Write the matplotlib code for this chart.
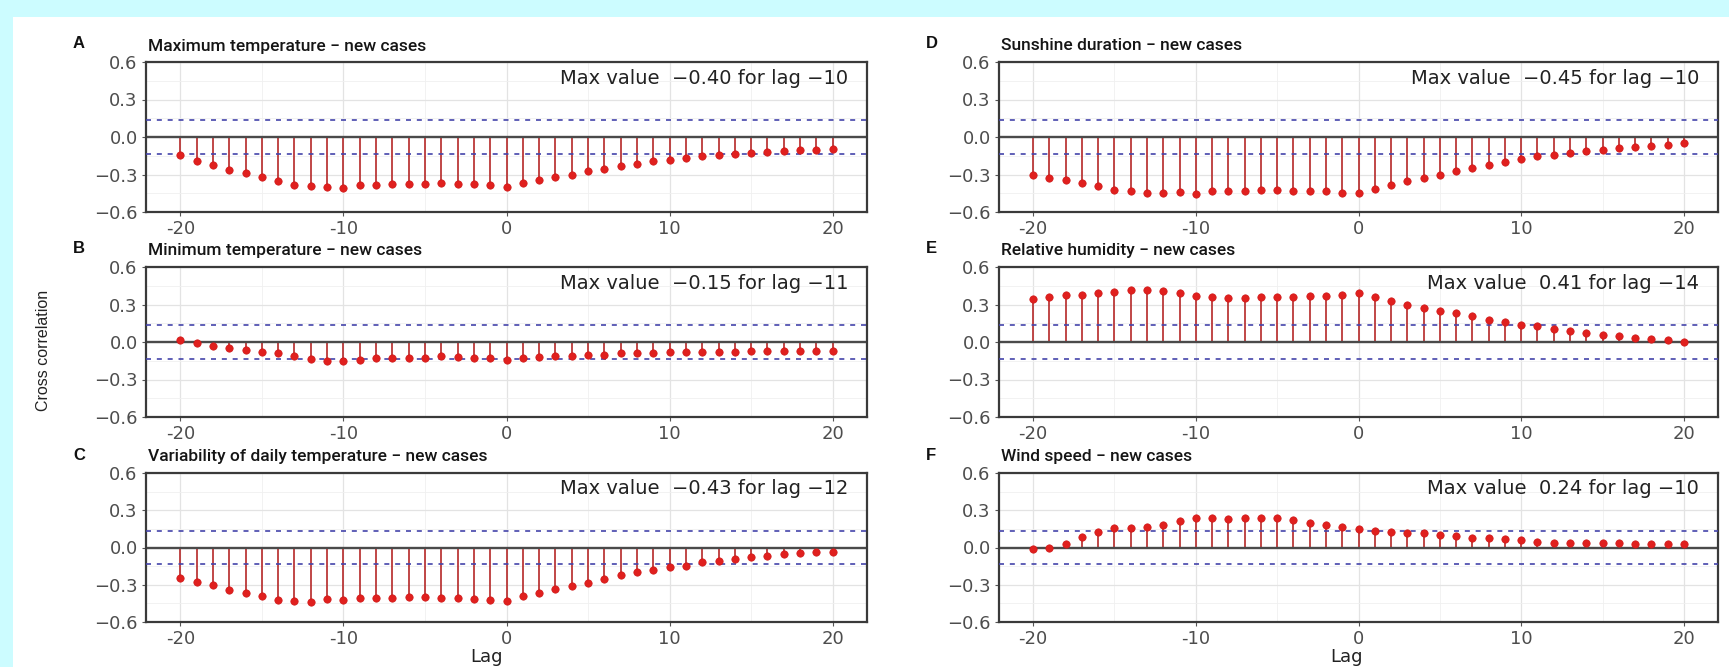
import matplotlib
matplotlib.use('Agg')
import matplotlib.pyplot as plt
from matplotlib.patches import Rectangle
from matplotlib.ticker import MultipleLocator

plt.rcParams['font.family'] = ['Liberation Sans', 'DejaVu Sans']
WIDE = ['DejaVu Sans']
TITLE = ['Roboto', 'Liberation Sans', 'DejaVu Sans']

lags = list(range(-20, 21))

max_temp = [-0.147, -0.19, -0.225, -0.26, -0.29, -0.32, -0.35, -0.38, -0.39, -0.40, -0.405,
            -0.385, -0.38, -0.375, -0.375, -0.375, -0.37, -0.375, -0.375, -0.38, -0.40,
            -0.37, -0.345, -0.32, -0.30, -0.275, -0.255, -0.235, -0.215, -0.195, -0.18,
            -0.165, -0.155, -0.145, -0.135, -0.13, -0.12, -0.11, -0.105, -0.10, -0.095]

min_temp = [0.02, -0.01, -0.035, -0.045, -0.065, -0.08, -0.09, -0.11, -0.135, -0.155, -0.15,
            -0.14, -0.13, -0.125, -0.13, -0.125, -0.115, -0.12, -0.125, -0.13, -0.14,
            -0.13, -0.12, -0.11, -0.11, -0.105, -0.10, -0.09, -0.09, -0.085, -0.08,
            -0.078, -0.077, -0.076, -0.076, -0.075, -0.075, -0.075, -0.075, -0.075, -0.075]

var_temp = [-0.245, -0.275, -0.30, -0.34, -0.365, -0.39, -0.42, -0.43, -0.435, -0.415, -0.42,
            -0.405, -0.405, -0.41, -0.40, -0.40, -0.41, -0.41, -0.415, -0.42, -0.43,
            -0.39, -0.365, -0.335, -0.31, -0.285, -0.25, -0.225, -0.20, -0.18, -0.16,
            -0.145, -0.12, -0.11, -0.095, -0.08, -0.07, -0.055, -0.045, -0.04, -0.035]

sunshine = [-0.30, -0.325, -0.345, -0.37, -0.395, -0.42, -0.43, -0.45, -0.45, -0.44, -0.455,
            -0.43, -0.43, -0.43, -0.42, -0.425, -0.43, -0.43, -0.43, -0.445, -0.45,
            -0.415, -0.385, -0.355, -0.33, -0.30, -0.275, -0.25, -0.22, -0.20, -0.175,
            -0.155, -0.14, -0.125, -0.115, -0.105, -0.09, -0.08, -0.07, -0.06, -0.05]

humidity = [0.345, 0.36, 0.375, 0.38, 0.39, 0.40, 0.415, 0.415, 0.405, 0.39, 0.37,
            0.36, 0.355, 0.355, 0.36, 0.36, 0.36, 0.365, 0.37, 0.375, 0.39,
            0.36, 0.325, 0.295, 0.27, 0.25, 0.23, 0.205, 0.18, 0.16, 0.14,
            0.125, 0.105, 0.09, 0.075, 0.06, 0.047, 0.036, 0.025, 0.014, 0.0]

wind = [-0.01, 0.0, 0.03, 0.085, 0.125, 0.155, 0.155, 0.165, 0.18, 0.21, 0.24,
        0.24, 0.23, 0.235, 0.235, 0.24, 0.22, 0.195, 0.18, 0.165, 0.145,
        0.135, 0.125, 0.12, 0.115, 0.10, 0.09, 0.08, 0.073, 0.065, 0.06,
        0.045, 0.04, 0.036, 0.035, 0.034, 0.033, 0.032, 0.031, 0.03, 0.03]

letters = ["A", "B", "C", "D", "E", "F"]
titles = ["Maximum temperature \u2212 new cases",
          "Minimum temperature \u2212 new cases",
          "Variability of daily temperature \u2212 new cases",
          "Sunshine duration \u2212 new cases",
          "Relative humidity \u2212 new cases",
          "Wind speed \u2212 new cases"]
notes = ["Max value  \u22120.40 for lag \u221210",
         "Max value  \u22120.15 for lag \u221211",
         "Max value  \u22120.43 for lag \u221212",
         "Max value  \u22120.45 for lag \u221210",
         "Max value  0.41 for lag \u221214",
         "Max value  0.24 for lag \u221210"]
series = [max_temp, min_temp, var_temp, sunshine, humidity, wind]
conf = 0.134
yticks = [-0.6, -0.3, 0.0, 0.3, 0.6]
ytick_labels = ["\u22120.6", "\u22120.3", "0.0", "0.3", "0.6"]
xticks = [-20, -10, 0, 10, 20]
xtick_labels = ["-20", "-10", "0", "10", "20"]

W, H = 1729, 667
fig = plt.figure(figsize=(W / 100, H / 100), dpi=100, facecolor='#CCFCFF')
fig.patches.append(Rectangle((13 / W, 0), 1 - 13 / W, 1 - 17 / H, transform=fig.transFigure,
                             facecolor='white', edgecolor='none', zorder=-10))

cols = [(146, 867), (999, 1718)]
rows = [(62, 212), (267, 417), (473, 622)]

for i in range(6):
    c, r = divmod(i, 3)
    x0, x1 = cols[c]
    y0, y1 = rows[r]
    ax = fig.add_axes([x0 / W, 1 - y1 / H, (x1 - x0) / W, (y1 - y0) / H], zorder=5)
    ax.set_facecolor('white')
    ax.set_xlim(-22.1, 22.1)
    ax.set_ylim(-0.6, 0.6)
    ax.set_xticks(xticks)
    ax.set_xticklabels(xtick_labels, family=WIDE)
    ax.set_yticks(yticks)
    ax.set_yticklabels(ytick_labels, family=WIDE)
    ax.xaxis.set_minor_locator(MultipleLocator(5))
    ax.yaxis.set_minor_locator(MultipleLocator(0.15))
    ax.grid(which='major', color='#E3E3E3', lw=0.9, zorder=0)
    ax.grid(which='minor', color='#F0F0F0', lw=0.6, zorder=0)
    ax.set_axisbelow(True)
    ax.tick_params(which='minor', length=0)
    ax.tick_params(which='major', length=3, width=0.8, color='#555555',
                   labelsize=13, labelcolor='#4D4D4D', pad=3)
    for s in ax.spines.values():
        s.set_color('#3A3A3A')
        s.set_linewidth(1.6)
    vals = series[i]
    ax.vlines(lags, 0, vals, color='#B52828', lw=1.2, zorder=2)
    ax.axhline(0, color='#4A4A4A', lw=1.7, zorder=2.5)
    ax.axhline(conf, color='#4444AA', lw=1.2, ls=(0, (3, 3.5)), zorder=3)
    ax.axhline(-conf, color='#4444AA', lw=1.2, ls=(0, (3, 3.5)), zorder=3)
    ax.plot(lags, vals, 'o', color='#E0201E', ms=5.3, mec='#D01818', mew=0.5, zorder=4)
    fig.text((x1 - 19) / W, 1 - (y0 + 16) / H, notes[i], ha='right', va='center',
             fontsize=14, color='#222222', family=WIDE, zorder=10)
    fig.text((x0 + 2) / W, 1 - (y0 - 16) / H, titles[i], ha='left', va='center',
             fontsize=12.5, fontweight='medium', color='#151515', family=TITLE, zorder=10)
    fig.text((x0 - 73) / W, 1 - (y0 - 18) / H, letters[i], ha='left', va='center',
             fontsize=12, fontweight='bold', color='#111111', zorder=10)

fig.text(43 / W, 1 - 350 / H, "Cross correlation", rotation=90, ha='center', va='center',
         fontsize=11.5, color='#222222', zorder=10)
fig.text(487 / W, 1 - 666 / H, "Lag", ha='center', va='bottom', fontsize=13, color='#222222',
         family=WIDE, zorder=10)
fig.text(1347 / W, 1 - 666 / H, "Lag", ha='center', va='bottom', fontsize=13, color='#222222',
         family=WIDE, zorder=10)

fig.savefig('out.png', dpi=100, facecolor=fig.get_facecolor())
